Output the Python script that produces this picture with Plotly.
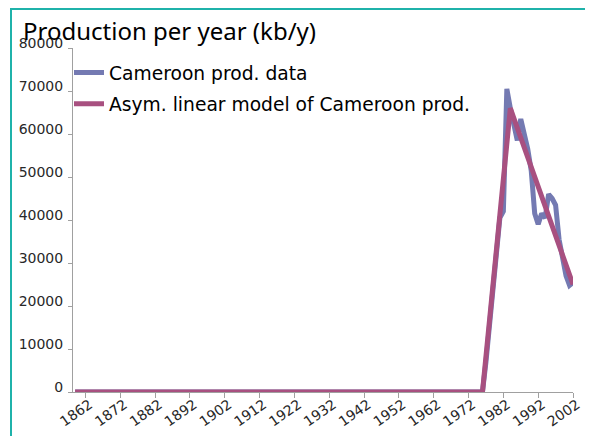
import plotly.graph_objects as go

# years on the x axis, 1859 .. 2002
years = list(range(1859, 2003))
tick_years = [1862, 1872, 1882, 1892, 1902, 1912, 1922, 1932, 1942, 1952,
              1962, 1972, 1982, 1992, 2002]
y_ticks = [0, 10000, 20000, 30000, 40000, 50000, 60000, 70000, 80000]

# nothing produced before 1976
zeros_before = [0] * (1976 - 1859)

# Cameroon production data, 1976 .. 2002 (kb/y)
prod_data = [0, 7000, 16000, 24000, 32000, 40500, 42000, 70500, 66000, 62000,
             58500, 63500, 60000, 56500, 51500, 41500, 39000, 41500, 40500,
             46000, 45000, 43500, 35500, 30500, 27000, 24800, 25500]

# asymmetric linear model, 1976 .. 2002 (kb/y)
prod_model = [0, 8250, 16500, 24750, 33000, 41250, 49500, 57750, 66000, 63700,
              61400, 59200, 56900, 54600, 52300, 50100, 47800, 45500, 43200,
              40900, 38700, 36400, 34100, 31800, 29600, 27300, 25000]

BLUE = "rgb(116,122,178)"
MAGENTA = "rgb(168,80,128)"
TEAL = "rgb(31,178,170)"
AXIS = "rgb(160,160,160)"
LABEL = "rgb(40,40,40)"

fig = go.Figure()
fig.add_trace(go.Scatter(
    x=years, y=zeros_before + prod_data, mode="lines",
    name="Cameroon prod. data", legendgroup="a",
    line=dict(color=BLUE, width=5)))
fig.add_trace(go.Scatter(
    x=years, y=zeros_before + prod_model, mode="lines",
    name="Asym. linear model of Cameroon prod.", legendgroup="b",
    line=dict(color=MAGENTA, width=5)))

# page body has an 8px margin, so the figure is sized to fit inside it
fig.update_layout(
    width=585, height=428,
    margin=dict(l=65, r=20, t=40, b=44),
    paper_bgcolor="white", plot_bgcolor="white",
    title=dict(text="Production per year (kb/y)", x=15 / 585, xanchor="left",
               xref="container", y=1 - 24 / 428, yanchor="middle",
               yref="container",
               font=dict(family="Noto Sans", size=24, color="black")),
    legend=dict(x=-0.008, y=0.983, xanchor="left", yanchor="top",
                bgcolor="rgba(0,0,0,0)", tracegroupgap=4,
                traceorder="grouped",
                font=dict(family="DejaVu Sans", size=18.7, color="black")),
    showlegend=True,
)

fig.update_xaxes(
    range=[1858.4, 2002], tickvals=tick_years, tickangle=-35,
    automargin=False, ticklabelshift=4, ticklabelstandoff=-7,
    showgrid=False, zeroline=False, showline=True, linecolor=AXIS,
    linewidth=1, ticks="outside", ticklen=5, tickcolor=AXIS,
    tickfont=dict(family="DejaVu Sans", size=14, color=LABEL))

# labels sit a little below their tick marks, as on the original slide
fig.update_yaxes(
    range=[0, 80000], tickvals=y_ticks, tickformat="d",
    automargin=False, ticklabelshift=-5, ticklabelstandoff=2,
    showgrid=False, zeroline=False, showline=True, linecolor=AXIS,
    linewidth=1, ticks="outside", ticklen=4, tickcolor=AXIS,
    tickfont=dict(family="DejaVu Sans", size=14, color=LABEL))

# teal frame lines on the left and top of the slide
fig.add_shape(type="line", xref="paper", yref="paper",
              xsizemode="pixel", ysizemode="pixel", xanchor=0, yanchor=1,
              x0=-62, x1=-62, y0=40, y1=-390,
              line=dict(color=TEAL, width=2))
fig.add_shape(type="line", xref="paper", yref="paper",
              xsizemode="pixel", ysizemode="pixel", xanchor=0, yanchor=1,
              x0=-62, x1=522, y0=39, y1=39,
              line=dict(color=TEAL, width=2))

fig.write_html("out.html")
